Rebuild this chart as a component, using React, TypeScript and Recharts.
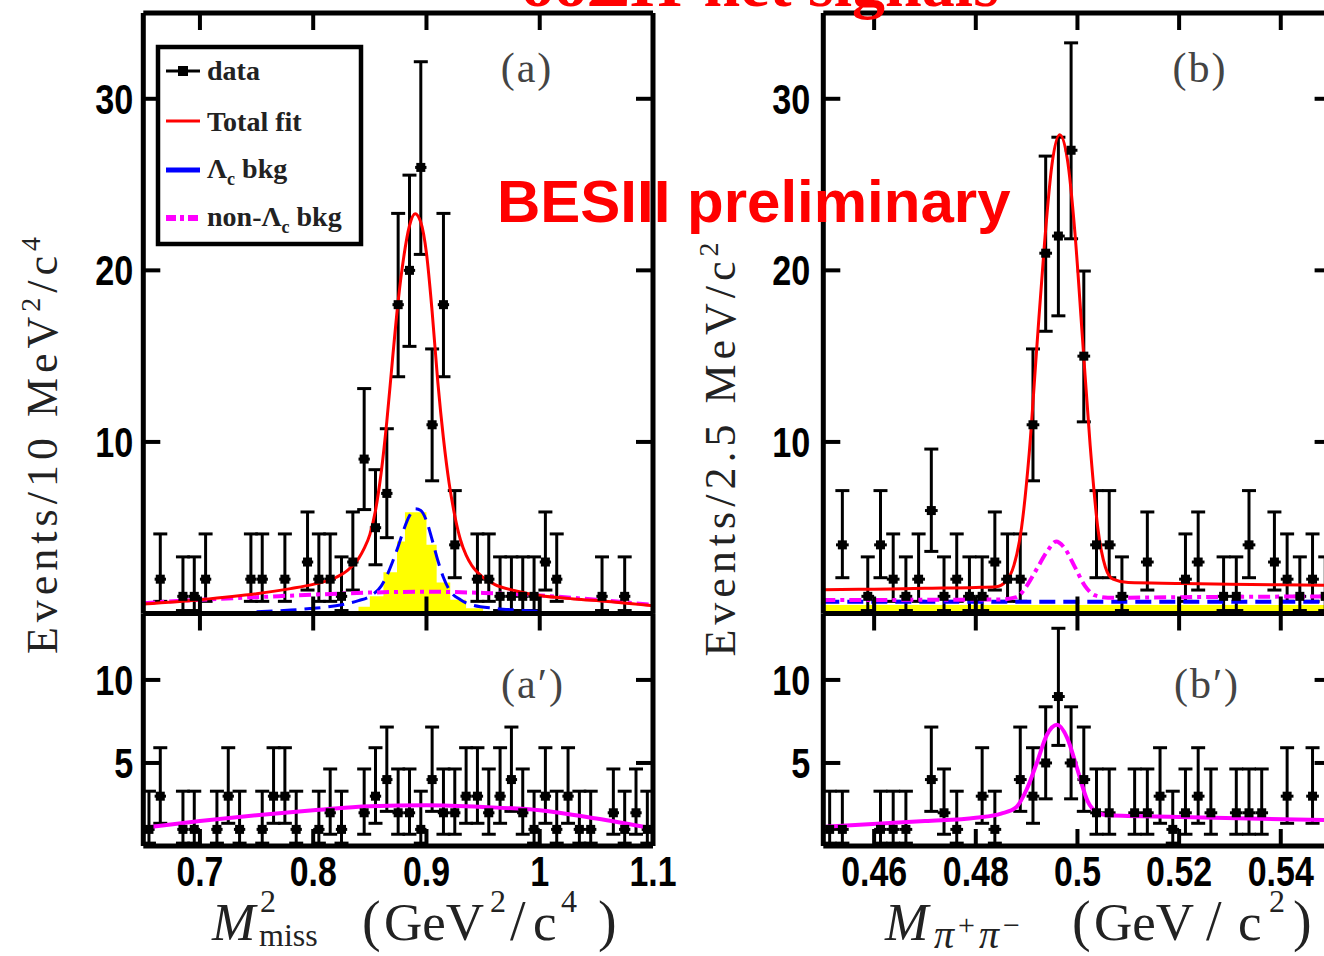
import React from "react";
import { ComposedChart, Line, Scatter, Area, XAxis, YAxis, ErrorBar } from "recharts";

// ---------------- data ----------------
const aStart = 0.65;
const aBin = 0.01;
const bStart = 0.45;
const bBin = 0.0025;

// events per bin, panel (a): M2miss, 45 bins of 0.01 from 0.65
const aCounts = [0, 2, 0, 1, 1, 2, 0, 0, 0, 2, 2, 0, 2, 0, 3, 2, 2, 1, 3, 9, 5, 7, 18, 20, 26, 11, 18, 4, 0, 2, 2, 1, 1, 1, 1, 3, 2, 0, 0, 0, 1, 0, 1, 0, 0];
// panel (a')
const aPrimeCounts = [1, 3, 0, 1, 1, 0, 1, 3, 1, 0, 1, 3, 3, 1, 0, 1, 2, 1, 0, 2, 3, 4, 2, 2, 1, 4, 2, 2, 3, 3, 2, 3, 4, 2, 1, 3, 1, 3, 1, 1, 0, 2, 1, 2, 1];
// panel (b): M(pi+pi-), 40 bins of 0.0025 from 0.45
const bCounts = [0, 4, 0, 1, 4, 2, 1, 2, 6, 1, 2, 1, 1, 3, 2, 2, 11, 21, 22, 27, 15, 4, 4, 1, 0, 3, 0, 0, 2, 3, 0, 1, 1, 4, 0, 3, 2, 1, 2, 1];
// panel (b')
const bPrimeCounts = [1, 1, 0, 0, 1, 1, 1, 0, 4, 2, 1, 0, 3, 1, 0, 4, 3, 5, 9, 5, 4, 2, 2, 0, 2, 2, 3, 1, 2, 3, 2, 0, 2, 2, 2, 0, 3, 0, 3, 0];

// Poisson (68.3%) interval table indexed by count
const poissonLow = [0, 0.173, 0.708, 1.367, 2.086, 2.84, 3.62, 4.419, 5.232, 6.057, 6.891, 7.734, 8.585, 9.441, 10.3, 11.17, 12.04, 12.92, 13.8, 14.68, 15.57, 16.45, 17.35, 18.24, 19.14, 20.03, 20.93, 21.84, 22.74];
const poissonHigh = [1.841, 3.3, 4.638, 5.918, 7.163, 8.382, 9.584, 10.77, 11.95, 13.11, 14.27, 15.42, 16.56, 17.7, 18.83, 19.96, 21.08, 22.2, 23.32, 24.44, 25.55, 26.66, 27.76, 28.87, 29.97, 31.07, 32.16, 33.26, 34.35];

// fit curves, panel (a)
const aTotalX = [0.65, 0.7, 0.75, 0.78, 0.8, 0.82, 0.83, 0.84, 0.845, 0.85, 0.855, 0.86, 0.865, 0.87, 0.875, 0.88, 0.885, 0.89, 0.895, 0.9, 0.905, 0.91, 0.915, 0.92, 0.925, 0.93, 0.935, 0.94, 0.95, 0.96, 0.98, 1.0, 1.03, 1.06, 1.1];
const aTotalY = [0.55, 0.8, 1.15, 1.45, 1.7, 2.1, 2.5, 3.2, 3.8, 4.6, 6.0, 8.2, 11.2, 14.8, 18.2, 20.8, 22.6, 23.3, 22.8, 21.0, 17.6, 13.5, 10.2, 7.6, 5.7, 4.3, 3.4, 2.8, 2.1, 1.7, 1.3, 1.05, 0.85, 0.7, 0.45];
const aBlueX = [0.75, 0.78, 0.8, 0.82, 0.84, 0.85, 0.86, 0.865, 0.87, 0.875, 0.88, 0.885, 0.89, 0.895, 0.9, 0.905, 0.91, 0.915, 0.92, 0.93, 0.94, 0.96, 0.98, 1.0];
const aBlueY = [0.1, 0.2, 0.3, 0.45, 0.75, 1.0, 1.6, 2.2, 3.0, 3.9, 4.9, 5.7, 6.1, 6.0, 5.4, 4.3, 3.1, 2.1, 1.4, 0.8, 0.5, 0.3, 0.2, 0.12];
const aPinkX = [0.65, 0.7, 0.75, 0.8, 0.85, 0.9, 0.95, 1.0, 1.05, 1.1];
const aPinkY = [0.6, 0.8, 0.95, 1.1, 1.22, 1.27, 1.2, 1.05, 0.8, 0.5];
const aYellowX = [0.84, 0.85, 0.862, 0.874, 0.881, 0.9, 0.909, 0.921, 0.935, 0.95];
const aYellowY = [0.4, 1.0, 2.4, 4.2, 5.9, 4.0, 1.8, 0.8, 0.3, 0];
const aPrimeFitX = [0.65, 0.7, 0.75, 0.8, 0.85, 0.9, 0.95, 1.0, 1.05, 1.1];
const aPrimeFitY = [1.1, 1.5, 1.85, 2.15, 2.4, 2.45, 2.35, 2.15, 1.65, 1.05];

// fit curves, panel (b)
const bTotalX = [0.45, 0.46, 0.47, 0.48, 0.484, 0.486, 0.4875, 0.489, 0.4905, 0.492, 0.4935, 0.495, 0.4965, 0.498, 0.4995, 0.501, 0.5025, 0.504, 0.5055, 0.507, 0.51, 0.52, 0.53, 0.54, 0.55];
const bTotalY = [1.38, 1.42, 1.47, 1.52, 1.56, 1.9, 2.8, 5.0, 9.3, 15.5, 21.5, 26.2, 27.9, 26.5, 22.2, 16.0, 9.8, 5.0, 2.7, 2.0, 1.8, 1.75, 1.7, 1.67, 1.65];
const bPinkX = [0.45, 0.47, 0.485, 0.488, 0.49, 0.492, 0.494, 0.4958, 0.4975, 0.4995, 0.5015, 0.5035, 0.506, 0.52, 0.55];
const bPinkY = [0.78, 0.8, 0.82, 0.95, 1.6, 2.6, 3.6, 4.2, 3.8, 2.7, 1.6, 1.05, 0.92, 0.95, 1.0];
const bBlueX = [0.45, 0.55];
const bBlueY = [0.68, 0.68];
const bYellowX = [0.45, 0.55];
const bYellowY = [0.5, 0.5];
const bPrimeFitX = [0.45, 0.47, 0.48, 0.485, 0.488, 0.49, 0.492, 0.494, 0.496, 0.498, 0.5, 0.502, 0.504, 0.506, 0.52, 0.55];
const bPrimeFitY = [1.15, 1.5, 1.7, 1.95, 2.35, 3.4, 5.0, 6.7, 7.3, 6.5, 4.6, 2.7, 2.0, 1.85, 1.75, 1.55];

// axes
const aXTicks = [0.7, 0.8, 0.9, 1.0, 1.1];
const aXTickLabels = ["0.7", "0.8", "0.9", "1", "1.1"];
const bXTicks = [0.46, 0.48, 0.5, 0.52, 0.54];
const bXTickLabels = ["0.46", "0.48", "0.5", "0.52", "0.54"];
const topYTicks = [10, 20, 30];
const topYTickLabels = ["10", "20", "30"];
const lowYTicks = [5, 10];
const lowYTickLabels = ["5", "10"];

// ---------------- helpers ----------------
const zip = (xs: number[], ys: number[]) => xs.map((x, i) => ({ x, y: ys[i] }));
const toPoints = (counts: number[], start: number, bin: number) =>
  counts
    .map((n, i) => ({
      x: start + (i + 0.5) * bin,
      y: n,
      ex: [bin / 2, bin / 2],
      ey: [n - poissonLow[n], poissonHigh[n] - n],
    }))
    .filter((p) => p.y > 0);

const TICK = 17;
const AXIS = { stroke: "#000", strokeWidth: 5 };
const tickFont: any = {
  fontFamily: "'Liberation Sans',Arial,sans-serif",
  fontWeight: 700,
  fontSize: 42,
  fill: "#000",
};
const serif = "'Liberation Serif','DejaVu Serif',serif";
// condensed width of a tick label (digits ~19px, dot ~9px)
const labelWidth = (s: string) => s.split("").reduce((w, ch) => w + (ch === "." ? 9 : 19), 0);

const xTick = (dir: number, labels: string[] | null) => (p: any) => (
  <g>
    <line x1={p.x} x2={p.x} y1={p.y} y2={p.y + dir * TICK} stroke="#000" strokeWidth={4} />
    {labels ? (
      <text
        x={p.x - labelWidth(labels[p.index]) / 2}
        y={p.y + 40}
        textLength={labelWidth(labels[p.index])}
        lengthAdjust="spacingAndGlyphs"
        {...tickFont}
      >
        {labels[p.index]}
      </text>
    ) : null}
  </g>
);
const yTick = (dir: number, labels: string[] | null, gap: number) => (p: any) => (
  <g>
    <line x1={p.x} x2={p.x + dir * TICK} y1={p.y} y2={p.y} stroke="#000" strokeWidth={4} />
    {labels ? (
      <text
        x={p.x - gap - labelWidth(labels[p.index])}
        y={p.y + 15}
        textLength={labelWidth(labels[p.index])}
        lengthAdjust="spacingAndGlyphs"
        {...tickFont}
      >
        {labels[p.index]}
      </text>
    ) : null}
  </g>
);

const CW = 1340;
const CH = 956;
const A_LEFT = 143.3;
const A_RIGHT = 653;
const B_LEFT = 823.3;
const B_RIGHT = 1331.6;
const TOP = 13;
const MID = 613.5;
const BOT = 846;

const Square = (p: any) => <rect x={p.cx - 4.5} y={p.cy - 4.5} width={9} height={9} fill="#000" />;

function Panel(props: {
  left: number;
  right: number;
  top: number;
  bottom: number;
  xDomain: [number, number];
  yDomain: [number, number];
  xTicks: number[];
  xLabels: string[] | null;
  yTicks: number[];
  yLabels: string[];
  yGap: number;
  children: any;
}) {
  const { left, right, top, bottom } = props;
  return (
    <div style={{ position: "absolute", left: 0, top: 0 }}>
      <ComposedChart
        width={CW}
        height={CH}
        margin={{ left: left - 1, top: top - 1, right: CW - right - 1, bottom: CH - bottom - 1 }}
      >
        <XAxis
          xAxisId="b"
          dataKey="x"
          type="number"
          orientation="bottom"
          domain={props.xDomain}
          ticks={props.xTicks}
          allowDataOverflow
          interval={0}
          height={1}
          tickSize={0}
          tickMargin={0}
          tickLine={false}
          axisLine={AXIS}
          tick={xTick(-1, props.xLabels)}
        />
        <XAxis
          xAxisId="t"
          dataKey="x"
          type="number"
          orientation="top"
          domain={props.xDomain}
          ticks={props.xTicks}
          allowDataOverflow
          interval={0}
          height={1}
          tickSize={0}
          tickMargin={0}
          tickLine={false}
          axisLine={AXIS}
          tick={xTick(1, null)}
        />
        <YAxis
          yAxisId="l"
          type="number"
          orientation="left"
          domain={props.yDomain}
          ticks={props.yTicks}
          allowDataOverflow
          interval={0}
          width={1}
          tickSize={0}
          tickMargin={0}
          tickLine={false}
          axisLine={AXIS}
          tick={yTick(1, props.yLabels, props.yGap)}
        />
        <YAxis
          yAxisId="r"
          type="number"
          orientation="right"
          domain={props.yDomain}
          ticks={props.yTicks}
          allowDataOverflow
          interval={0}
          width={1}
          tickSize={0}
          tickMargin={0}
          tickLine={false}
          axisLine={AXIS}
          tick={yTick(-1, null, 0)}
        />
        {props.children}
      </ComposedChart>
    </div>
  );
}

const dataSeries = (pts: any[]) => (
  <Scatter
    key="data"
    xAxisId="b"
    yAxisId="l"
    data={pts}
    dataKey="y"
    shape={Square}
    isAnimationActive={false}
  >
    <ErrorBar dataKey="ey" direction="y" width={7} stroke="#000" strokeWidth={3} isAnimationActive={false} />
    <ErrorBar dataKey="ex" direction="x" width={0} stroke="#000" strokeWidth={3} isAnimationActive={false} />
  </Scatter>
);

const curve = (key: string, data: any[], stroke: string, width: number, dash?: string) => (
  <Line
    key={key}
    xAxisId="b"
    yAxisId="l"
    data={data}
    dataKey="y"
    type="monotone"
    dot={false}
    activeDot={false}
    stroke={stroke}
    strokeWidth={width}
    strokeDasharray={dash}
    isAnimationActive={false}
  />
);

const fill = (key: string, data: any[], type: any) => (
  <Area
    key={key}
    xAxisId="b"
    yAxisId="l"
    data={data}
    dataKey="y"
    type={type}
    baseValue={0}
    fill="#ffff00"
    fillOpacity={1}
    stroke="none"
    dot={false}
    activeDot={false}
    isAnimationActive={false}
  />
);

const RED = "#ff0000";
const BLUE = "#0000ff";
const MAG = "#ff00ff";

function Overlay() {
  const sup = (t: string, dy: number, size: number) => (
    <tspan dy={dy} fontSize={size}>
      {t}
    </tspan>
  );
  return (
    <svg width={1324} height={956} style={{ position: "absolute", left: 0, top: 0 }}>
      {/* slide title, mostly above the visible area */}
      <text x={760} y={6} textAnchor="middle" fontFamily={serif} fontWeight={700} fontSize={66} fill={RED}>
        ooΣΠ-net signals
      </text>

      {/* y titles */}
      <text transform="translate(57,443) rotate(-90)" textAnchor="middle" fontFamily={serif} fontSize={44} letterSpacing={5} fill="#222">
        Events/10 MeV{sup("2", -17, 28)}
        <tspan dy={17}>/c</tspan>
        {sup("4", -17, 28)}
      </text>
      <text transform="translate(735,447) rotate(-90)" textAnchor="middle" fontFamily={serif} fontSize={44} letterSpacing={5} fill="#222">
        Events/2.5 MeV/c{sup("2", -17, 28)}
      </text>

      {/* x titles */}
      <g fontFamily={serif} fill="#222">
        <text x={212} y={940} fontSize={52} fontStyle="italic">M</text>
        <text x={260} y={912} fontSize={32}>2</text>
        <text x={259} y={946} fontSize={32}>miss</text>
        <text x={362} y={940} fontSize={56}>(</text>
        <text x={384} y={940} fontSize={53}>GeV</text>
        <text x={490} y={912} fontSize={32}>2</text>
        <text x={510} y={940} fontSize={56}>/</text>
        <text x={533} y={940} fontSize={53}>c</text>
        <text x={561} y={912} fontSize={32}>4</text>
        <text x={598} y={940} fontSize={56}>)</text>

        <text x={885} y={940} fontSize={52} fontStyle="italic">M</text>
        <text x={934} y={948} fontSize={40} fontStyle="italic" letterSpacing={4}>
          π<tspan dy={-13} fontSize={30} fontStyle="normal">+</tspan>
          <tspan dy={13}>π</tspan>
          <tspan dy={-13} fontSize={30} fontStyle="normal">−</tspan>
        </text>
        <text x={1072} y={940} fontSize={56}>(</text>
        <text x={1094} y={940} fontSize={53}>GeV</text>
        <text x={1206} y={940} fontSize={56}>/</text>
        <text x={1238} y={940} fontSize={53}>c</text>
        <text x={1269} y={912} fontSize={32}>2</text>
        <text x={1293} y={940} fontSize={56}>)</text>
      </g>

      {/* panel labels */}
      <g fontFamily={serif} fontSize={42} fill="#444" textAnchor="middle" letterSpacing={2}>
        <text x={527} y={82}>(a)</text>
        <text x={1200} y={82}>(b)</text>
        <text x={533} y={698}>(a′)</text>
        <text x={1207} y={698}>(b′)</text>
      </g>

      {/* legend */}
      <rect x={158} y={47} width={203} height={197} fill="#fff" stroke="#000" strokeWidth={4.5} />
      <g fontFamily={serif} fontWeight={700} fontSize={28} fill="#222">
        <line x1={166} x2={200} y1={71} y2={71} stroke="#000" strokeWidth={3} />
        <rect x={178} y={66} width={10} height={10} fill="#000" />
        <text x={207} y={80}>data</text>
        <line x1={166} x2={200} y1={121} y2={121} stroke={RED} strokeWidth={3} />
        <text x={207} y={131}>Total fit</text>
        <line x1={166} x2={200} y1={170} y2={170} stroke={BLUE} strokeWidth={5} />
        <text x={207} y={178}>
          Λ<tspan dy={7} fontSize={18}>c</tspan>
          <tspan dy={-7}> bkg</tspan>
        </text>
        <line x1={166} x2={202} y1={218} y2={218} stroke={MAG} strokeWidth={6} strokeDasharray="10 4 4 4" />
        <text x={207} y={226}>
          non-Λ<tspan dy={7} fontSize={18}>c</tspan>
          <tspan dy={-7}> bkg</tspan>
        </text>
      </g>

      {/* watermark */}
      <text x={497} y={222} fontFamily="'Liberation Sans',Arial,sans-serif" fontWeight={700} fontSize={60} fill={RED}>
        BESIII preliminary
      </text>
    </svg>
  );
}

export default function App() {
  const aPts = toPoints(aCounts, aStart, aBin);
  const apPts = toPoints(aPrimeCounts, aStart, aBin);
  const bPts = toPoints(bCounts, bStart, bBin);
  const bpPts = toPoints(bPrimeCounts, bStart, bBin);
  return (
    <div style={{ position: "absolute", left: 0, top: 0, width: 1324, height: 956, overflow: "hidden", background: "#fff" }}>
      <Panel left={A_LEFT} right={A_RIGHT} top={TOP} bottom={MID} xDomain={[0.65, 1.1]} yDomain={[0, 35]} xTicks={aXTicks} xLabels={null} yTicks={topYTicks} yLabels={topYTickLabels} yGap={10}>
        {[
          fill("ay", zip(aYellowX, aYellowY), "stepAfter"),
          dataSeries(aPts),
          curve("ab", zip(aBlueX, aBlueY), BLUE, 3, "16 8"),
          curve("ap", zip(aPinkX, aPinkY), MAG, 4, "12 5 4 5"),
          curve("ar", zip(aTotalX, aTotalY), RED, 3),
        ]}
      </Panel>
      <Panel left={A_LEFT} right={A_RIGHT} top={MID} bottom={BOT} xDomain={[0.65, 1.1]} yDomain={[0, 14]} xTicks={aXTicks} xLabels={aXTickLabels} yTicks={lowYTicks} yLabels={lowYTickLabels} yGap={10}>
        {[dataSeries(apPts), curve("apf", zip(aPrimeFitX, aPrimeFitY), MAG, 4)]}
      </Panel>
      <Panel left={B_LEFT} right={B_RIGHT} top={TOP} bottom={MID} xDomain={[0.45, 0.55]} yDomain={[0, 35]} xTicks={bXTicks} xLabels={null} yTicks={topYTicks} yLabels={topYTickLabels} yGap={13}>
        {[
          fill("by", zip(bYellowX, bYellowY), "linear"),
          dataSeries(bPts),
          curve("bb", zip(bBlueX, bBlueY), BLUE, 4, "16 8"),
          curve("bp", zip(bPinkX, bPinkY), MAG, 4, "12 5 4 5"),
          curve("br", zip(bTotalX, bTotalY), RED, 3),
        ]}
      </Panel>
      <Panel left={B_LEFT} right={B_RIGHT} top={MID} bottom={BOT} xDomain={[0.45, 0.55]} yDomain={[0, 14]} xTicks={bXTicks} xLabels={bXTickLabels} yTicks={lowYTicks} yLabels={lowYTickLabels} yGap={13}>
        {[dataSeries(bpPts), curve("bpf", zip(bPrimeFitX, bPrimeFitY), MAG, 4)]}
      </Panel>
      <Overlay />
    </div>
  );
}
